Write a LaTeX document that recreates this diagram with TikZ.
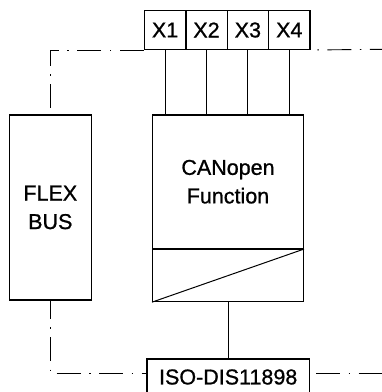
\documentclass[tikz,border=0pt]{standalone}
\usepackage{fontspec}
\setmainfont{Liberation Sans}
\newfontfamily\boxfont{Liberation Sans}[FakeBold=0.9]
\begin{document}
\begin{tikzpicture}[x=1pt,y=-1pt,
	box/.style={draw,line width=1.4pt,inner sep=0pt,font=\boxfont\fontsize{21.5}{28.5}\selectfont,align=center},
	wire/.style={line width=1pt},
	axis/.style={line width=0.9pt,dash pattern=on 24pt off 8.5pt on 1.5pt off 8.5pt}]
	\useasboundingbox (0,0) rectangle (382,392);
	\foreach \i in {1,...,4}
		\node[box,minimum width=41.4pt,minimum height=38.6pt] (x\i) at (123.7+41.4*\i,30) {X\i};
	\node[box,minimum width=82pt,minimum height=185pt] (flex) at (50.3,207.5) {FLEX\\BUS};
	\node[box,minimum width=150.6pt,minimum height=133.3pt] (can) at (228,181.7) {CANopen\\Function};
	\node[box,minimum width=150.6pt,minimum height=51.7pt,anchor=north] (conv) at (can.south) {};
	\draw[wire] (conv.south west) -- (conv.north east);
	\node[box,minimum width=162.3pt,minimum height=36pt,anchor=north] (iso) at (228.2,358.3) {ISO-DIS11898};
	\foreach \i in {1,...,4}
		\draw[wire] (x\i.south) -- (x\i.south |- can.north);
	\draw[wire] (conv.south) -- (conv.south |- iso.north);
	% bus lines
	\coordinate (tr) at (382,49.3);
	\coordinate (br) at (382,373.3);
	\draw[axis] (x1.south west) -| (flex.north);
	\draw[axis,dash phase=25.8pt] (x4.south east) -- (tr);
	\draw[axis,dash phase=6pt] (flex.south) |- (iso.west |- br);
	\draw[axis,dash phase=36.5pt] (iso.east |- br) -- (br);
\end{tikzpicture}
\end{document}
